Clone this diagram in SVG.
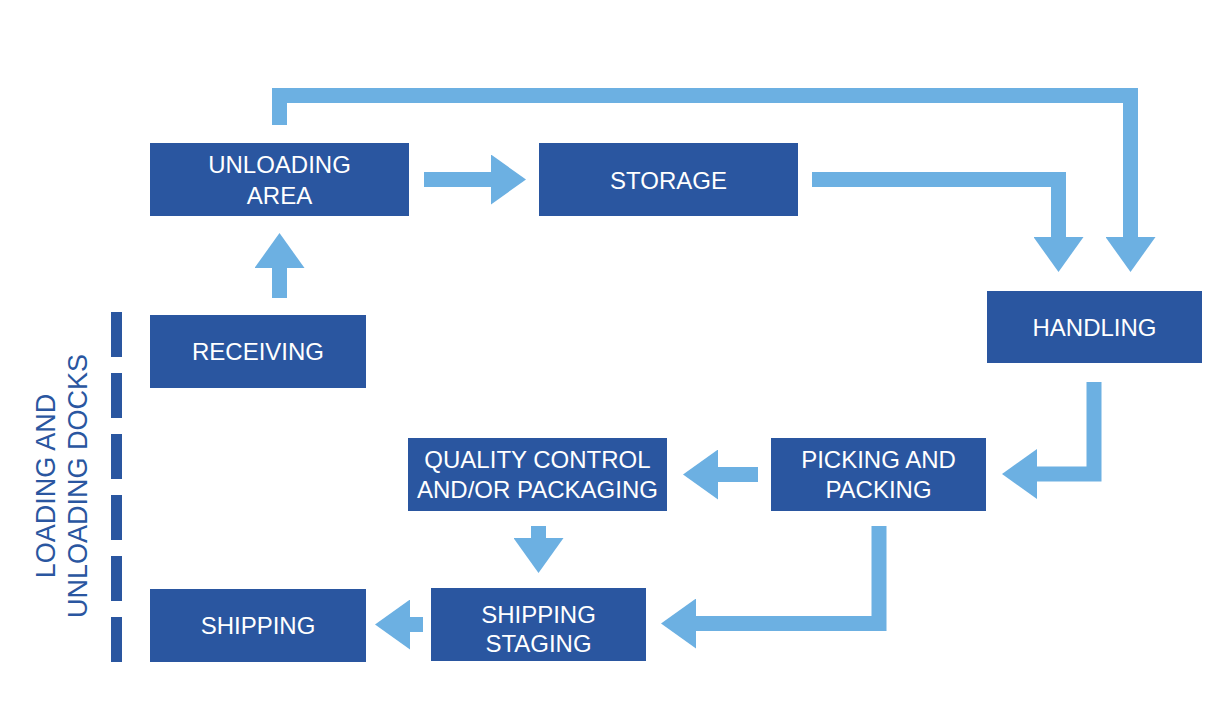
<svg xmlns="http://www.w3.org/2000/svg" width="1224" height="714" viewBox="0 0 1224 714">
<style>
.box{fill:#2a56a0}
.lbl{fill:#ffffff;font-family:"Liberation Sans",Arial,sans-serif;font-size:24px;text-anchor:middle}
.conn{fill:none;stroke:#6cb0e2;stroke-width:15;stroke-linejoin:miter;stroke-linecap:butt;marker-end:url(#head)}
.side{fill:#2a56a0;font-family:"Liberation Sans",Arial,sans-serif;font-size:27px;text-anchor:middle}
</style>
<defs>
<marker id="head" viewBox="0 0 35 50" refX="0" refY="25" markerWidth="35" markerHeight="50" markerUnits="userSpaceOnUse" orient="auto">
<path d="M0,0 L35,25 L0,50 Z" fill="#6cb0e2"/>
</marker>
</defs>
<rect width="1224" height="714" fill="#ffffff"/>
<g id="docks">
<line x1="116.5" y1="312" x2="116.5" y2="662" stroke="#2a56a0" stroke-width="11" stroke-dasharray="45 16"/>
<text class="side" transform="translate(55,486) rotate(-90)">LOADING AND</text>
<text class="side" transform="translate(87,486) rotate(-90)">UNLOADING DOCKS</text>
</g>
<g id="connectors">
<path class="conn" d="M279.5,298 V268"/>
<path class="conn" d="M424,179.5 H491"/>
<path class="conn" d="M279.5,125 V95.5 H1130.5 V237"/>
<path class="conn" d="M812,179.5 H1058.5 V237"/>
<path class="conn" d="M1094,382 V474 H1037"/>
<path class="conn" d="M758,474.5 H718"/>
<path class="conn" d="M538.5,526 V538"/>
<path class="conn" d="M879,526 V623.5 H696"/>
<path class="conn" d="M423,624.5 H410"/>
</g>
<g id="unloading-area">
<rect class="box" x="150" y="143" width="259" height="73"/>
<text class="lbl" x="279.5" y="173">UNLOADING</text>
<text class="lbl" x="279.5" y="204">AREA</text>
</g>
<g id="storage">
<rect class="box" x="539" y="143" width="259" height="73"/>
<text class="lbl" x="668.5" y="189">STORAGE</text>
</g>
<g id="handling">
<rect class="box" x="987" y="291" width="215" height="72"/>
<text class="lbl" x="1094.5" y="336">HANDLING</text>
</g>
<g id="receiving">
<rect class="box" x="150" y="315" width="216" height="73"/>
<text class="lbl" x="258" y="360">RECEIVING</text>
</g>
<g id="picking-packing">
<rect class="box" x="771" y="438" width="215" height="73"/>
<text class="lbl" x="878.5" y="468">PICKING AND</text>
<text class="lbl" x="878.5" y="498">PACKING</text>
</g>
<g id="quality-control">
<rect class="box" x="408" y="438" width="259" height="73"/>
<text class="lbl" x="537.5" y="468">QUALITY CONTROL</text>
<text class="lbl" x="537.5" y="498">AND/OR PACKAGING</text>
</g>
<g id="shipping-staging">
<rect class="box" x="431" y="588" width="215" height="73"/>
<text class="lbl" x="538.5" y="623">SHIPPING</text>
<text class="lbl" x="538.5" y="652">STAGING</text>
</g>
<g id="shipping">
<rect class="box" x="150" y="589" width="216" height="73"/>
<text class="lbl" x="258" y="634">SHIPPING</text>
</g>
</svg>
